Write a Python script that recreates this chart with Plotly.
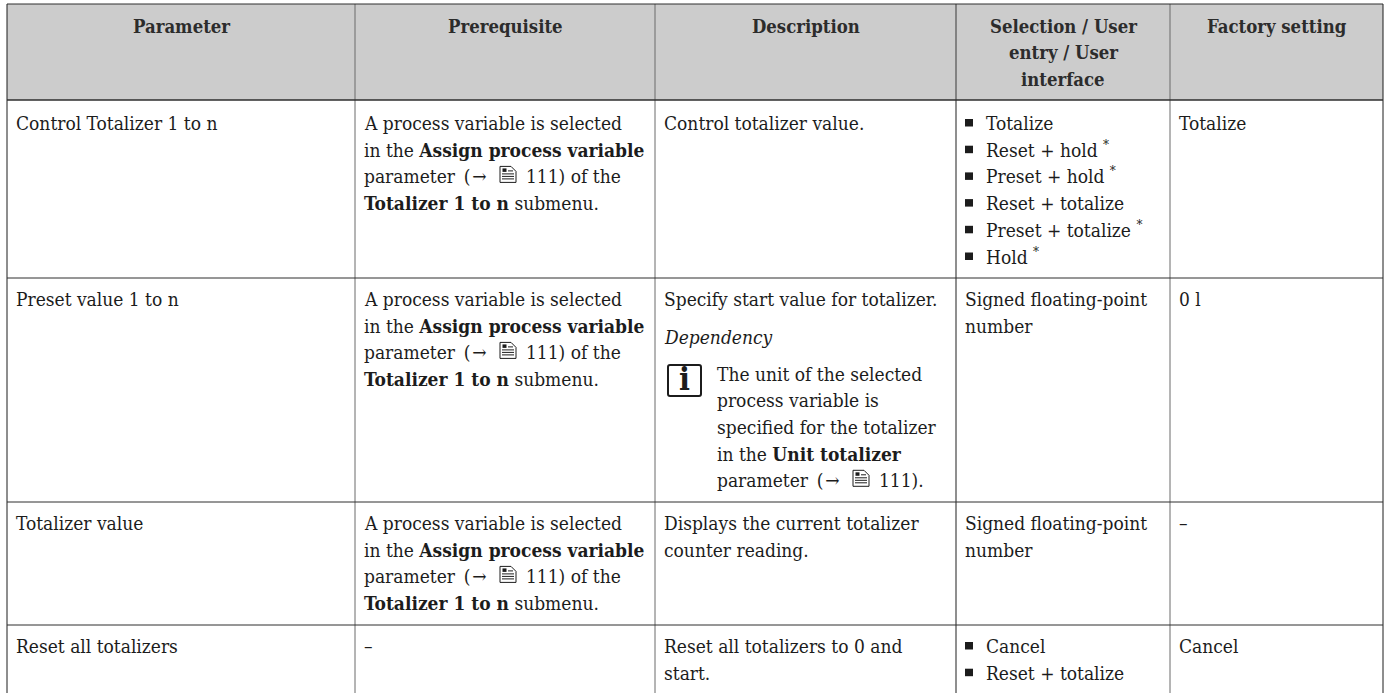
import plotly.graph_objects as go

W, H = 1389, 693
FONT = "DejaVu Serif Condensed"
SIZE = 19
HEAD_SIZE = 18.4
INK = "#1c1c1c"
HEAD_INK = "#2c2c2c"
RULE = "#6a6a6a"
DARK = "#2e2e2e"

headers = [["Parameter"], ["Prerequisite"], ["Description"],
           ["Selection / User", "entry / User", "interface"], ["Factory setting"]]
parameters = ["Control Totalizer 1 to n", "Preset value 1 to n", "Totalizer value", "Reset all totalizers"]
prereq_lines = ["A process variable is selected",
                "in the <b>Assign process variable</b>",
                "parameter\u2009 (\u200a→",
                "<b>Totalizer 1 to n</b> submenu."]
prereq_tail = "111) of the"
descriptions = [["Control totalizer value."],
                ["Specify start value for totalizer."],
                ["Displays the current totalizer", "counter reading."],
                ["Reset all totalizers to 0 and", "start."]]
dependency = "<i>Dependency</i>"
note_lines = ["The unit of the selected", "process variable is", "specified for the totalizer",
              "in the <b>Unit totalizer</b>", "parameter\u2009 (\u200a→"]
note_tail = "111)."
selections = [[("Totalize", False), ("Reset + hold", True), ("Preset + hold", True),
               ("Reset + totalize", False), ("Preset + totalize", True), ("Hold", True)],
              ["Signed floating-point", "number"],
              ["Signed floating-point", "number"],
              [("Cancel", False), ("Reset + totalize", False)]]
factory = ["Totalize", "0 l", "–", "Cancel"]

col_x = [7, 355, 655, 956, 1170, 1383]
row_y = [4, 100, 278, 502, 625]
text_y = [123, 299, 523, 646]
PITCH = 26.7
PAD = 7

fig = go.Figure()
ann = []
shapes = []


def text(x, y, s, size=SIZE, anchor="left", color=INK):
    ann.append(dict(x=x, y=y, text=s, xref="x", yref="y", xanchor=anchor, yanchor="middle",
                    showarrow=False, align="left",
                    font=dict(family=FONT, size=size, color=color)))


def rect(x0, y0, x1, y1, fill=None, line=INK, width=1):
    shapes.append(dict(type="rect", x0=x0, y0=y0, x1=x1, y1=y1, xref="x", yref="y",
                       fillcolor=fill if fill else "rgba(0,0,0,0)",
                       line=dict(color=line, width=width)))


def seg(x0, y0, x1, y1, color=RULE, width=1):
    shapes.append(dict(type="line", x0=x0, y0=y0, x1=x1, y1=y1, xref="x", yref="y",
                       line=dict(color=color, width=width)))


def doc_icon(x, y):
    path = f"M {x} {y-10} L {x+11} {y-10} L {x+16} {y-5} L {x+16} {y+6} L {x} {y+6} Z"
    shapes.append(dict(type="path", path=path, xref="x", yref="y", fillcolor="white",
                       line=dict(color=INK, width=1)))
    rect(x + 2.5, y - 8, x + 6.5, y - 4.5, fill=INK, line=INK, width=0)
    seg(x + 8, y - 5.5, x + 13, y - 5.5, INK, 1)
    for dy in (-2.5, 0, 2.5):
        seg(x + 2, y + dy, x + 14, y + dy, INK, 1)


def doc_line(x, y, head, tail):
    text(x, y, head)
    doc_icon(x + 138, y)
    text(x + 162, y, tail)


def bullet_list(x, y, items):
    for i, (label, star) in enumerate(items):
        yy = y + i * PITCH
        rect(x + 9, yy - 4, x + 17, yy + 3.5, fill=INK, line=INK, width=0)
        # a superscript makes the text box taller, which moves a centred line down
        text(x + 28, yy - (1 if star else 0), label + (" <sup>*</sup>" if star else ""))


rect(col_x[0], row_y[0], col_x[-1], row_y[1], fill="#cccccc", line="rgba(0,0,0,0)", width=0)

for i, lines in enumerate(headers):
    cx = (col_x[i] + col_x[i + 1]) / 2
    for j, part in enumerate(lines):
        text(cx, 26 + j * PITCH, f"<b>{part}</b>", size=HEAD_SIZE, anchor="center", color=HEAD_INK)

for r, p in enumerate(parameters):
    y0 = text_y[r]
    text(col_x[0] + PAD, y0, p)
    if r < 3:
        for j, l in enumerate(prereq_lines):
            if j == 2:
                doc_line(col_x[1] + PAD, y0 + j * PITCH, l, prereq_tail)
            else:
                text(col_x[1] + PAD, y0 + j * PITCH, l)
    else:
        text(col_x[1] + PAD, y0, "–")
    for j, l in enumerate(descriptions[r]):
        text(col_x[2] + PAD, y0 + j * PITCH, l)
    sel = selections[r]
    if isinstance(sel[0], tuple):
        bullet_list(col_x[3], y0, sel)
    else:
        for j, l in enumerate(sel):
            text(col_x[3] + PAD, y0 + j * PITCH, l)
    text(col_x[4] + PAD, y0, factory[r])

text(col_x[2] + PAD, 337, dependency)
shapes.append(dict(type="path", xref="x", yref="y", fillcolor="white", line=dict(color=INK, width=2),
                   path="M 670 365 L 699 365 Q 701 365 701 367 L 701 394 Q 701 396 699 396 "
                        "L 670 396 Q 668 396 668 394 L 668 367 Q 668 365 670 365 Z"))
text(684.5, 379, "<b>i</b>", size=32, anchor="center")
for j, l in enumerate(note_lines):
    yy = 373.5 + j * PITCH
    if j == 4:
        doc_line(715, yy, l, note_tail)
    else:
        text(715, yy, l)

for x in col_x:
    seg(x, row_y[0], x, H, INK if x in (col_x[0], col_x[-1]) else RULE, 1.5 if x == col_x[3] else 1)
for y in row_y:
    seg(col_x[0], y, col_x[-1], y, DARK, 1.5 if y == row_y[1] else 1)

fig.update_layout(
    width=W, height=H, margin=dict(l=0, r=0, t=0, b=0),
    paper_bgcolor="white", plot_bgcolor="white", showlegend=False,
    xaxis=dict(range=[0, W], visible=False, fixedrange=True),
    yaxis=dict(range=[H, 0], visible=False, fixedrange=True),
    annotations=ann, shapes=shapes,
)
fig.write_html("out.html", config=dict(displayModeBar=False),
               post_script="document.body.style.margin='0';document.body.style.overflow='hidden';")
